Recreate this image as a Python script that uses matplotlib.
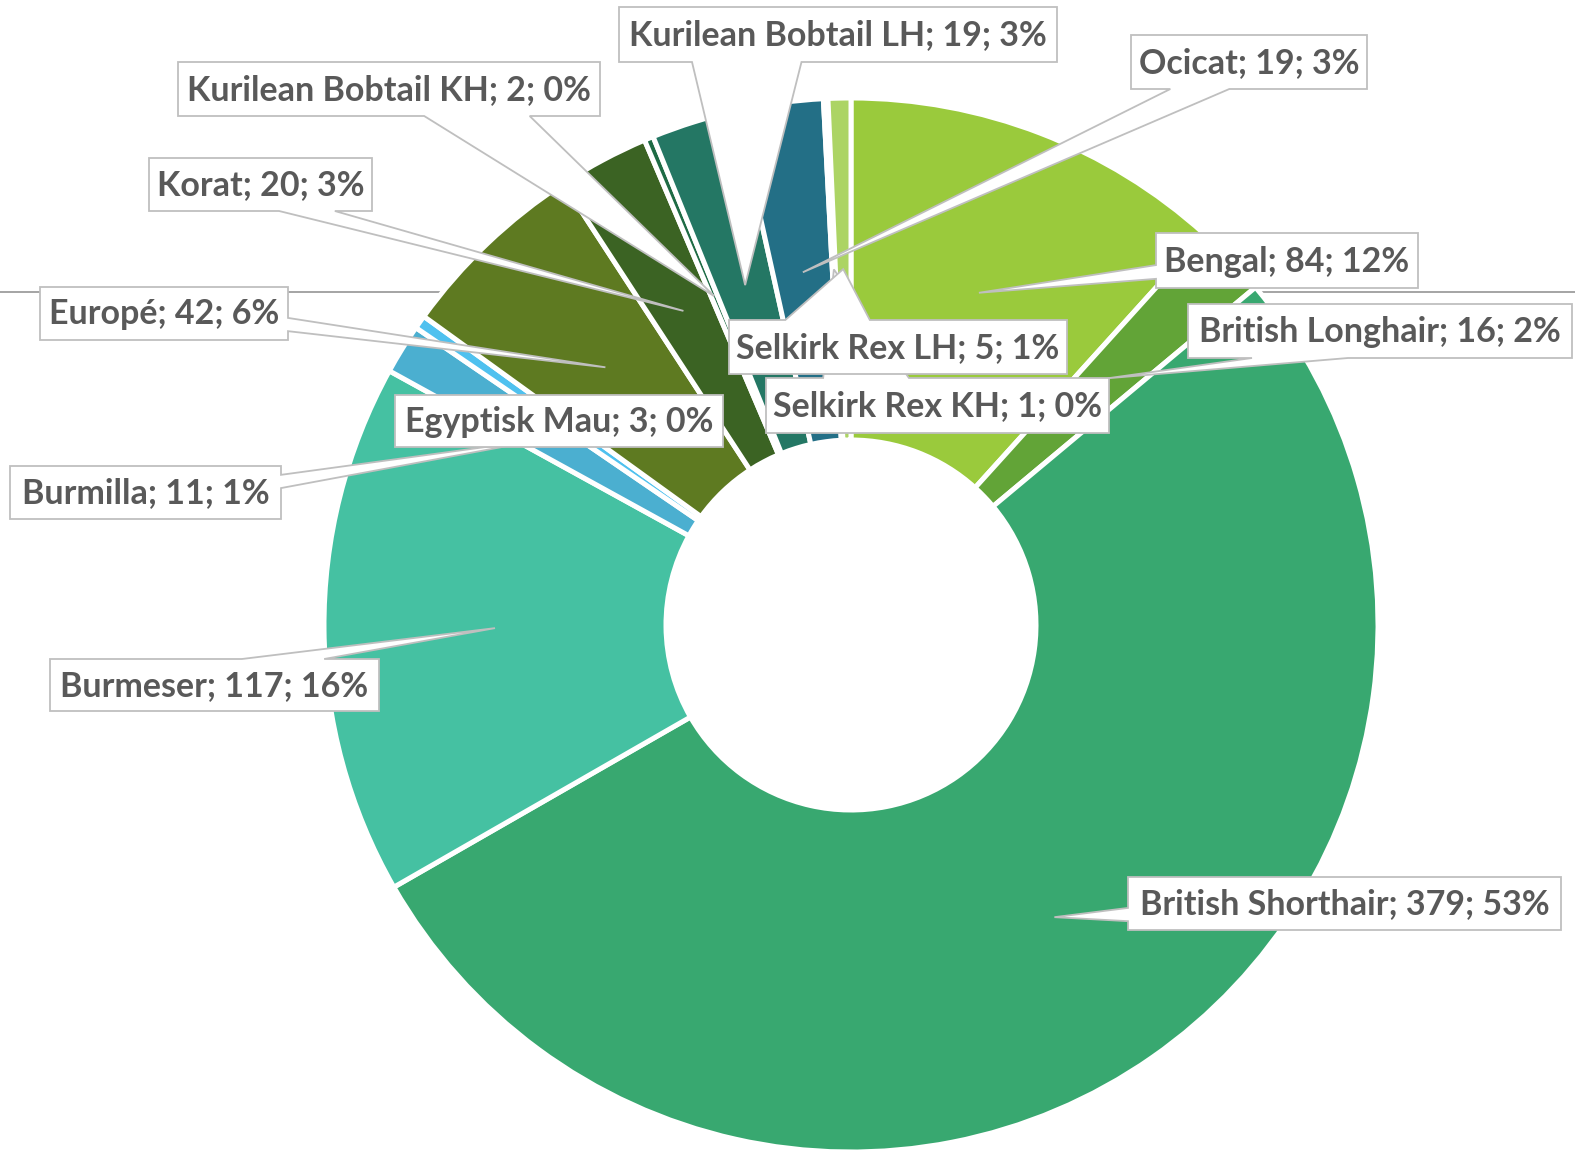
import numpy as np
import matplotlib
matplotlib.use("Agg")
import matplotlib.pyplot as plt
from matplotlib.patches import Polygon

breeds = ["Bengal", "British Longhair", "British Shorthair", "Burmeser", "Burmilla",
          "Egyptisk Mau", "Europé", "Korat", "Kurilean Bobtail KH", "Kurilean Bobtail LH",
          "Ocicat", "Selkirk Rex KH", "Selkirk Rex LH"]
counts = [84, 16, 379, 117, 11, 3, 42, 20, 2, 19, 19, 1, 5]
pct_labels = ["12%", "2%", "53%", "16%", "1%", "0%", "6%", "3%", "0%", "3%", "3%", "0%", "1%"]
colors = ["#9aca3c", "#62a437", "#38a870", "#45c1a2", "#4bafd0", "#4fc1ef", "#5e7a21",
          "#3b6323", "#1e6b45", "#247764", "#236f86", "#1f5f75", "#acd464"]

# label boxes, pixel layout (left, top, right, bottom), y measured from the top
boxes = [(1156, 233, 1418, 288), (1188, 304, 1572, 358), (1128, 877, 1561, 930),
         (50, 659, 379, 711), (10, 466, 281, 519), (395, 395, 723, 447),
         (40, 287, 288, 340), (149, 158, 372, 211), (178, 62, 600, 116),
         (619, 7, 1057, 62), (1131, 35, 1367, 89), (766, 378, 1109, 433),
         (729, 320, 1067, 374)]

W, H = 1575, 1150
cx, cy = 851, 625
r_out, r_in = 527, 185
line_y = 292

fig = plt.figure(figsize=(W / 100, H / 100), dpi=100)
ax = fig.add_axes([0, 0, 1, 1])

wedges, _ = ax.pie(counts, colors=colors, startangle=90, counterclock=False,
                   radius=r_out, center=(cx, H - cy),
                   wedgeprops=dict(width=r_out - r_in, edgecolor="white",
                                   linewidth=3.6, zorder=1))
ax.set_xlim(0, W)
ax.set_ylim(0, H)
ax.set_aspect("equal")
ax.axis("off")

# stray horizontal rule behind the ring
half = np.sqrt(r_out**2 - (cy - line_y)**2) - 3
ax.hlines(H - line_y, 0, cx - half, color="#8c8c8c", lw=1.1, zorder=0)
ax.hlines(H - line_y, cx + half, W, color="#8c8c8c", lw=1.1, zorder=0)


def callout(box, tip):
    l, t, r, b = box
    w, h = r - l, b - t
    xp, yp = tip
    if l < xp < r and t < yp < b:
        # pointer hidden inside the box
        return [(x, H - y) for x, y in [(l, t), (r, t), (r, b), (l, b)]]
    dx, dy = xp - (l + r) / 2, yp - (t + b) / 2
    x1 = l + w * (7 if dx >= 0 else 2) / 12
    x2 = l + w * (10 if dx >= 0 else 5) / 12
    y1 = t + h * (7 if dy >= 0 else 2) / 12
    y2 = t + h * (10 if dy >= 0 else 5) / 12
    vertical = abs(dy) > abs(dx * h / w)
    pts = [(l, t)]
    if vertical and dy < 0:
        pts += [(x1, t), (xp, yp), (x2, t)]
    pts += [(r, t)]
    if not vertical and dx >= 0:
        pts += [(r, y1), (xp, yp), (r, y2)]
    pts += [(r, b)]
    if vertical and dy >= 0:
        pts += [(x2, b), (xp, yp), (x1, b)]
    pts += [(l, b)]
    if not vertical and dx < 0:
        pts += [(l, y2), (xp, yp), (l, y1)]
    return [(x, H - y) for x, y in pts]


r_mid = (r_out + r_in) / 2
for i, wdg in enumerate(wedges):
    ang = np.deg2rad((wdg.theta1 + wdg.theta2) / 2)
    tip = (cx + r_mid * np.cos(ang), cy - r_mid * np.sin(ang))
    box = boxes[i]
    poly = Polygon(callout(box, tip), closed=True, facecolor="white",
                   edgecolor="#bfbfbf", lw=1.3, zorder=3 + 2 * i)
    ax.add_patch(poly)
    ax.text((box[0] + box[2]) / 2, H - (box[1] + box[3]) / 2 - 1,
            f"{breeds[i]}; {counts[i]}; {pct_labels[i]}",
            ha="center", va="center", fontsize=24.5, fontweight="bold",
            family="Lato", color="#595959", zorder=4 + 2 * i)

fig.savefig("out.png", dpi=100)
